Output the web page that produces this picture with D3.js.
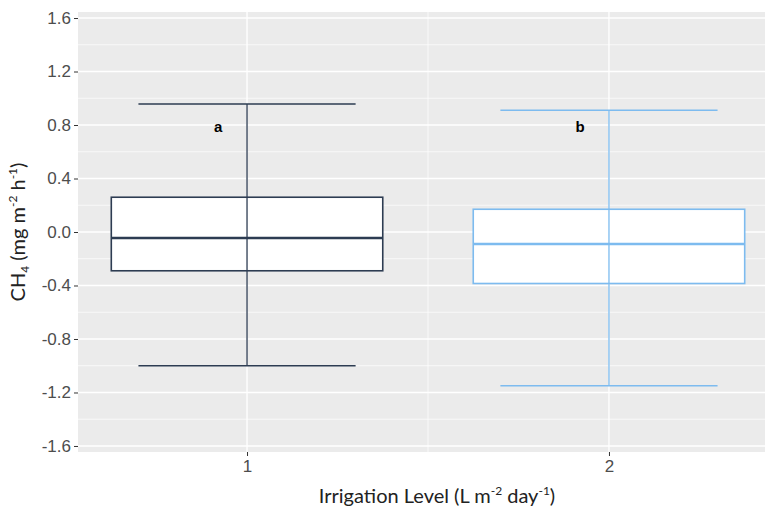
<!DOCTYPE html>
<html>
<head>
<meta charset="utf-8">
<script src="https://cdn.jsdelivr.net/npm/d3@7"></script>
<style>
  body { margin: 0; background: #fff; }
  svg { display: block; }
</style>
</head>
<body>
<div id="chart"></div>
<script>
// irrigation levels and CH4 box stats (mg m-2 h-1)
const levels = ["1", "2"];
const whiskerLow = [-1.00, -1.15];
const boxLow = [-0.29, -0.385];
const medians = [-0.045, -0.09];
const boxHigh = [0.26, 0.17];
const whiskerHigh = [0.957, 0.91];
const groupLetters = ["a", "b"];
const letterY = 0.79;
const yTicks = [-1.6, -1.2, -0.8, -0.4, 0.0, 0.4, 0.8, 1.2, 1.6];
const colors = ["#2d3c52", "#7dbbef"];

const W = 765, H = 509;
const panel = { left: 78, right: 778, top: 12, bottom: 452 };

const svg = d3.select("#chart").append("svg")
    .attr("width", W)
    .attr("height", H);

const x = d3.scalePoint()
    .domain(levels)
    .range([panel.left, panel.right])
    .padding(0.467);

const y = d3.scaleLinear()
    .domain([-1.645, 1.645])
    .range([panel.bottom, panel.top]);

const step = x.step();

// panel background
svg.append("rect")
    .attr("x", panel.left)
    .attr("y", panel.top)
    .attr("width", panel.right - panel.left)
    .attr("height", panel.bottom - panel.top)
    .attr("fill", "#ebebeb");

// minor grid
const minor = d3.range(yTicks.length - 1).map(i => (yTicks[i] + yTicks[i + 1]) / 2);
svg.append("g").selectAll("line")
    .data(minor)
    .enter().append("line")
    .attr("x1", panel.left).attr("x2", panel.right)
    .attr("y1", d => y(d)).attr("y2", d => y(d))
    .attr("stroke", "#fff").attr("stroke-width", 0.7);

svg.append("line")
    .attr("x1", (x("1") + x("2")) / 2).attr("x2", (x("1") + x("2")) / 2)
    .attr("y1", panel.top).attr("y2", panel.bottom)
    .attr("stroke", "#fff").attr("stroke-width", 0.7);

// major grid
svg.append("g").selectAll("line")
    .data(yTicks)
    .enter().append("line")
    .attr("x1", panel.left).attr("x2", panel.right)
    .attr("y1", d => y(d)).attr("y2", d => y(d))
    .attr("stroke", "#fff").attr("stroke-width", 1.3);

svg.append("g").selectAll("line")
    .data(levels)
    .enter().append("line")
    .attr("x1", d => x(d)).attr("x2", d => x(d))
    .attr("y1", panel.top).attr("y2", panel.bottom)
    .attr("stroke", "#fff").attr("stroke-width", 1.3);

// axes (plain hyphen for negatives, like the original)
const fmt = d => d3.format(".1f")(d).replace("\u2212", "-");
const yAxis = svg.append("g")
    .attr("transform", `translate(${panel.left},0)`)
    .call(d3.axisLeft(y).tickValues(yTicks).tickFormat(fmt).tickSize(4).tickPadding(3));
yAxis.select(".domain").remove();
yAxis.selectAll("line").attr("stroke", "#333");
yAxis.selectAll("text")
    .attr("fill", "#4d4d4d")
    .style("font-family", "'Liberation Sans', Arial, sans-serif")
    .style("font-size", "17px");

const xAxis = svg.append("g")
    .attr("transform", `translate(0,${panel.bottom})`)
    .call(d3.axisBottom(x).tickSize(4).tickPadding(4));
xAxis.select(".domain").remove();
xAxis.selectAll("line").attr("stroke", "#333");
xAxis.selectAll("text")
    .attr("fill", "#4d4d4d")
    .style("font-family", "'Liberation Sans', Arial, sans-serif")
    .style("font-size", "17px");

// boxes
const stats = levels.map((lv, i) => ({
    level: lv, lo: whiskerLow[i], q1: boxLow[i], med: medians[i],
    q3: boxHigh[i], hi: whiskerHigh[i], color: colors[i], letter: groupLetters[i]
}));

const g = svg.append("g").selectAll("g")
    .data(stats)
    .enter().append("g");

g.append("rect")
    .attr("x", d => x(d.level) - step * 0.375)
    .attr("y", d => y(d.q3))
    .attr("width", step * 0.75)
    .attr("height", d => y(d.q1) - y(d.q3))
    .attr("fill", "#fff")
    .attr("stroke", d => d.color)
    .attr("stroke-width", 1.6);

g.append("line")
    .attr("x1", d => x(d.level) - step * 0.375)
    .attr("x2", d => x(d.level) + step * 0.375)
    .attr("y1", d => y(d.med)).attr("y2", d => y(d.med))
    .attr("stroke", d => d.color)
    .attr("stroke-width", 2.6);

// error bars on top
g.append("line")
    .attr("x1", d => x(d.level)).attr("x2", d => x(d.level))
    .attr("y1", d => y(d.hi)).attr("y2", d => y(d.lo))
    .attr("stroke", d => d.color)
    .attr("stroke-width", 1.3);

["hi", "lo"].forEach(k => {
    g.append("line")
        .attr("x1", d => x(d.level) - step * 0.3)
        .attr("x2", d => x(d.level) + step * 0.3)
        .attr("y1", d => y(d[k])).attr("y2", d => y(d[k]))
        .attr("stroke", d => d.color)
        .attr("stroke-width", 1.6);
});

g.append("text")
    .attr("x", d => x(d.level) - step * 0.08)
    .attr("y", y(letterY))
    .attr("dy", "0.35em")
    .attr("text-anchor", "middle")
    .style("font-family", "'Liberation Sans', Arial, sans-serif")
    .style("font-weight", "bold")
    .style("font-size", "15px")
    .text(d => d.letter);

// axis titles
const xTitle = svg.append("text")
    .attr("x", 437)
    .attr("y", 503)
    .attr("text-anchor", "middle")
    .style("font-family", "Lato, 'Open Sans', sans-serif")
    .style("font-size", "20px")
    .attr("fill", "#222");
xTitle.append("tspan").text("Irrigation Level (L m");
xTitle.append("tspan").attr("dy", -8).style("font-size", "12px").text("-2");
xTitle.append("tspan").attr("dy", 8).text(" day");
xTitle.append("tspan").attr("dy", -8).style("font-size", "12px").text("-1");
xTitle.append("tspan").attr("dy", 8).text(")");

const yTitle = svg.append("text")
    .attr("transform", `translate(25,${y(0)}) rotate(-90)`)
    .attr("text-anchor", "middle")
    .style("font-family", "Lato, 'Open Sans', sans-serif")
    .style("font-size", "20px")
    .attr("fill", "#222");
yTitle.append("tspan").text("CH");
yTitle.append("tspan").attr("dy", 4).style("font-size", "12px").text("4");
yTitle.append("tspan").attr("dy", -4).text(" (mg m");
yTitle.append("tspan").attr("dy", -8).style("font-size", "12px").text("-2");
yTitle.append("tspan").attr("dy", 8).text(" h");
yTitle.append("tspan").attr("dy", -8).style("font-size", "12px").text("-1");
yTitle.append("tspan").attr("dy", 8).text(")");
</script>
</body>
</html>
